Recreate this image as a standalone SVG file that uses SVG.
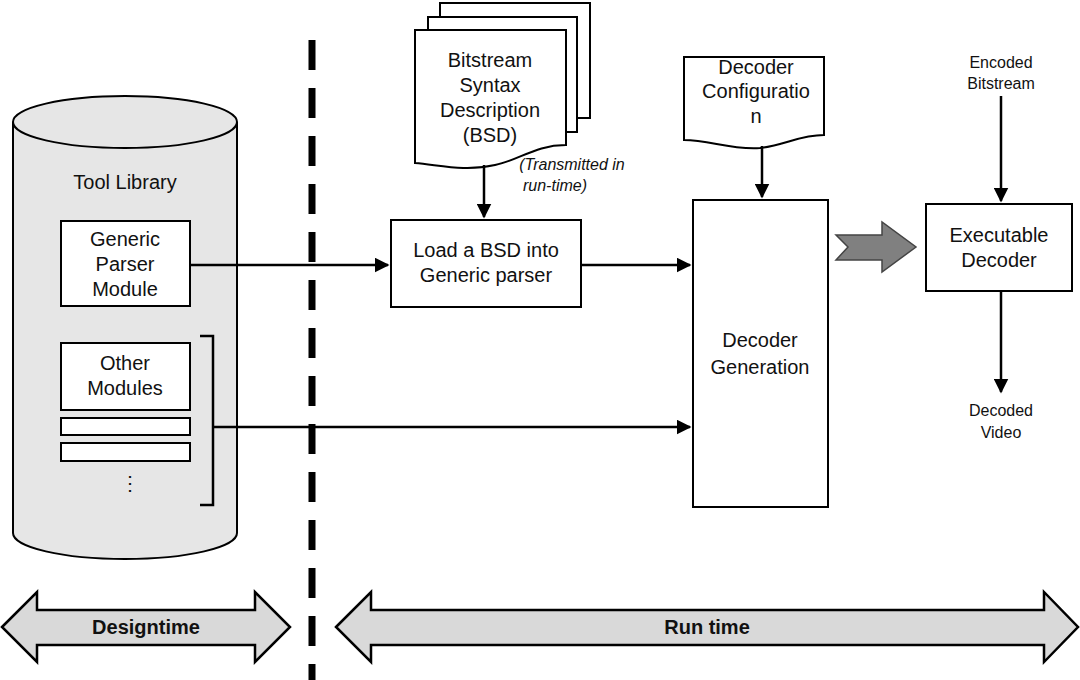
<svg xmlns="http://www.w3.org/2000/svg" width="1080" height="680" viewBox="0 0 1080 680">
<style>
text{font-family:"Liberation Sans",Arial,sans-serif;font-size:20px;fill:#111;text-anchor:middle}
.b{fill:#fff;stroke:#000;stroke-width:2}
.l{stroke:#000;stroke-width:2.5;fill:none}
.s{font-size:16px}
.big{fill:#d9d9d9;stroke:#000;stroke-width:2.5}
</style>
<defs><marker id="a" viewBox="0 0 10 10" refX="9" refY="5" markerWidth="6" markerHeight="6" orient="auto"><path d="M0,0L10,5L0,10z" fill="#000"/></marker></defs>
<rect width="1080" height="680" fill="#fff"/>
<g id="library">
<path d="M13,122 V533 A112,26 0 0 0 237,533 V122" fill="#e6e6e6" stroke="#000" stroke-width="2"/>
<ellipse cx="125" cy="122" rx="112" ry="26" fill="#e6e6e6" stroke="#000" stroke-width="2"/>
<text x="125" y="189">Tool Library</text>
</g>
<g id="gpm"><rect class="b" x="61" y="221" width="129" height="85"/><text x="125" y="246">Generic</text><text x="125" y="271">Parser</text><text x="125" y="296">Module</text></g>
<g id="other"><rect class="b" x="61" y="343" width="129" height="67"/><text x="125" y="370">Other</text><text x="125" y="395">Modules</text>
<rect class="b" x="61" y="418" width="129" height="17"/><rect class="b" x="61" y="443" width="129" height="18"/>
<text x="130" y="490">⋮</text>
<path class="l" d="M200,336 H213 V505 H200 M213,427 H218"/></g>
<line x1="312" y1="40" x2="312" y2="680" stroke="#000" stroke-width="7" stroke-dasharray="30,18"/>
<g id="bsd">
<path class="b" d="M440,3 H590 V118 H440Z"/>
<path class="b" d="M428,17 H577 V132 H428Z"/>
<path class="b" d="M415,30 H566 V145 C535,145 520,160 495,165 C465,172 440,165 415,163Z"/>
<text x="490" y="67">Bitstream</text><text x="490" y="92">Syntax</text><text x="490" y="117">Description</text><text x="490" y="142">(BSD)</text>
<text class="s" x="572" y="170" font-style="italic">(Transmitted in</text><text class="s" x="555" y="191" font-style="italic">run-time)</text>
</g>
<g id="load"><rect class="b" x="391" y="220" width="190" height="87"/><text x="486" y="257">Load a BSD into</text><text x="486" y="282">Generic parser</text></g>
<g id="config"><path class="b" d="M684,57 H824 V135 C800,135 785,145 760,148 C730,150 710,140 684,140Z"/>
<text x="756" y="74">Decoder</text><text x="756" y="98">Configuratio</text><text x="756" y="123">n</text></g>
<g id="gen"><rect class="b" x="693" y="200" width="135" height="307"/><text x="760" y="347">Decoder</text><text x="760" y="374">Generation</text></g>
<g id="exe"><rect class="b" x="926" y="204" width="146" height="87"/><text x="999" y="242">Executable</text><text x="999" y="267">Decoder</text></g>
<g id="enc"><text class="s" x="1001" y="68">Encoded</text><text class="s" x="1001" y="89">Bitstream</text></g>
<g id="dec"><text class="s" x="1001" y="416">Decoded</text><text class="s" x="1001" y="438">Video</text></g>
<g id="connectors">
<line class="l" x1="190" y1="265" x2="388" y2="265" marker-end="url(#a)"/>
<line class="l" x1="581" y1="265" x2="690" y2="265" marker-end="url(#a)"/>
<line class="l" x1="218" y1="427" x2="690" y2="427" marker-end="url(#a)"/>
<line class="l" x1="484" y1="165" x2="484" y2="217" marker-end="url(#a)"/>
<line class="l" x1="762" y1="146" x2="762" y2="197" marker-end="url(#a)"/>
<line class="l" x1="1001" y1="96" x2="1001" y2="201" marker-end="url(#a)"/>
<line class="l" x1="1001" y1="291" x2="1001" y2="392" marker-end="url(#a)"/>
<path d="M836,235 H882 V222 L916,247 L882,272 V260 H836 L848,247Z" fill="#808080" stroke="#444" stroke-width="1.5"/>
</g>
<g id="designtime"><path class="big" d="M2,627 L37,592 V610 H255 V592 L290,627 L255,662 V645 H37 V662Z"/><text x="146" y="634" font-weight="bold">Designtime</text></g>
<g id="runtime"><path class="big" d="M336,627 L371,592 V610 H1044 V592 L1078,627 L1044,662 V645 H371 V662Z"/><text x="707" y="634" font-weight="bold">Run time</text></g>
</svg>
